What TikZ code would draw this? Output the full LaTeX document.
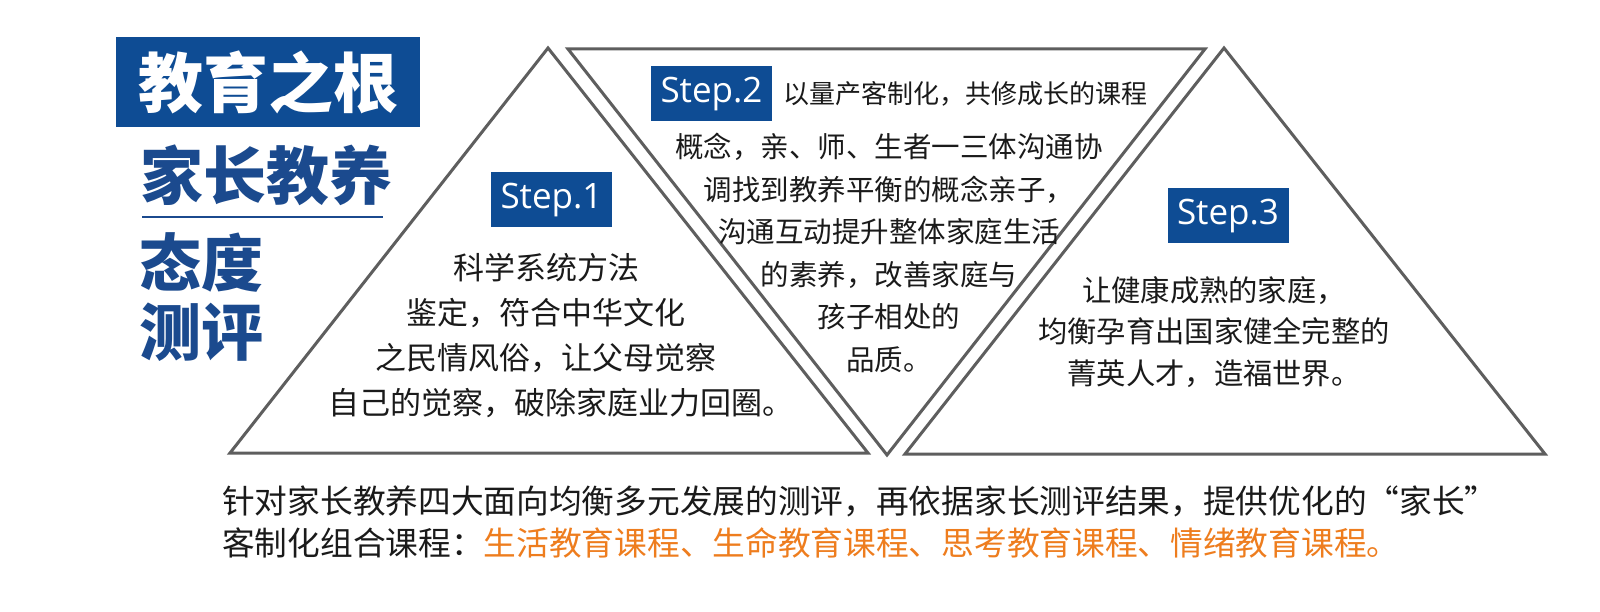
\documentclass[tikz,border=0pt]{standalone}
\usepackage{fontspec}
\newfontfamily\cjk{Noto Sans CJK SC}
\newfontfamily\latinsf{Open Sans}
\definecolor{titleblue}{HTML}{0E4C94}
\definecolor{textblue}{HTML}{1B4A8E}
\definecolor{edgegray}{HTML}{5E5E5E}
\definecolor{courseorange}{HTML}{EE7D1E}
\definecolor{bodyblack}{HTML}{1A1A1A}
\begin{document}
\begin{tikzpicture}[x=1pt,y=-1pt,
  tri/.style={draw=edgegray,line width=3pt,line join=miter},
  stepbox/.style={fill=titleblue,text=white,minimum width=121pt,minimum height=55pt,inner sep=0pt,font=\latinsf\fontsize{35}{35}\selectfont},
  body/.style={align=center,text=bodyblack,inner sep=0pt},
  sidehead/.style={text=textblue,inner sep=0pt},
]
\useasboundingbox (0,0) rectangle (1600,612);
\fill[white] (0,0) rectangle (1600,612);

% left title block
\node[fill=titleblue,minimum width=304pt,minimum height=90pt,inner sep=0pt,text=white,
      font=\cjk\bfseries\fontsize{65}{65}\selectfont] (title) at (268,82) {教育之根};
\node[sidehead,font=\cjk\bfseries\fontsize{63}{63}\selectfont] (parent) at (266,175) {家长教养};
\coordinate (ruleL) at (142,217);
\coordinate (ruleR) at (383,217);
\draw[textblue,line width=1.2pt] (ruleL) -- (ruleR);
\node[sidehead,font=\cjk\bfseries\fontsize{62}{62}\selectfont] (attitude) at (201,262) {态度};
\node[sidehead,font=\cjk\bfseries\fontsize{62}{62}\selectfont] (assess) at (201,332) {测评};

% triangles
\coordinate (t1a) at (230,453);
\coordinate (t1b) at (868,453);
\coordinate (t1c) at (548,48);
\coordinate (t2a) at (568,49);
\coordinate (t2b) at (1205,49);
\coordinate (t2c) at (887,455);
\coordinate (t3a) at (905,454);
\coordinate (t3b) at (1545,454);
\coordinate (t3c) at (1224,48);
\draw[tri] (t1a) -- (t1b) -- (t1c) -- cycle;
\draw[tri] (t2a) -- (t2b) -- (t2c) -- cycle;
\draw[tri] (t3a) -- (t3b) -- (t3c) -- cycle;

% step 1
\node[stepbox] (s1) at (551.5,200) {Step.1};
\node[body,font=\cjk\fontsize{31}{45}\selectfont] (s1text) at (546,335)
  {科学系统方法\\鉴定，符合中华文化\\之民情风俗，让父母觉察\\\hspace*{30pt}自己的觉察，破除家庭业力回圈。};

% step 2
\node[stepbox] (s2) at (711.5,94) {Step.2};
\node[anchor=west,inner sep=0pt,text=bodyblack,font=\cjk\fontsize{26}{26}\selectfont] (s2head) at (783,94)
  {以量产客制化，共修成长的课程};
\node[body,font=\cjk\fontsize{28.5}{42.6}\selectfont] (s2text) at (889,253)
  {概念，亲、师、生者一三体沟通协\\调找到教养平衡的概念亲子，\\沟通互动提升整体家庭生活\\的素养，改善家庭与\\孩子相处的\\品质。};

% step 3
\node[stepbox] (s3) at (1228,216) {Step.3};
\node[body,font=\cjk\fontsize{29.3}{41.5}\selectfont] (s3text) at (1214,332)
  {让健康成熟的家庭，\\均衡孕育出国家健全完整的\\菁英人才，造福世界。};

% bottom text
\node[anchor=north west,align=left,inner sep=0pt,text=bodyblack,font=\cjk\fontsize{32.7}{42}\selectfont] (bottom) at (222,486)
  {针对家长教养四大面向均衡多元发展的测评，再依据家长测评结果，提供优化的“家长”\\
   客制化组合课程：{\color{courseorange}生活教育课程、生命教育课程、思考教育课程、情绪教育课程。}};
\end{tikzpicture}
\end{document}
